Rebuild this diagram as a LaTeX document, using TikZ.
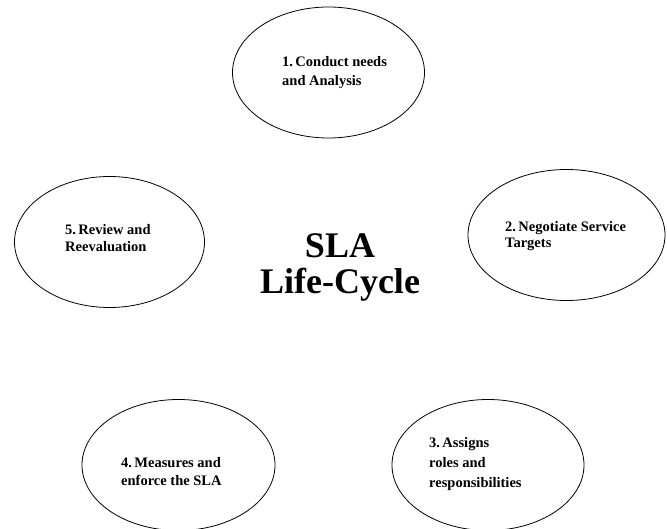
\documentclass[tikz,border=0pt]{standalone}
\usepackage{fontspec}
\setmainfont{Liberation Serif}
\usetikzlibrary{shapes.geometric}
\begin{document}
\begin{tikzpicture}[x=1pt,y=-1pt,
  phase/.style={draw=black,line width=0.8pt,ellipse,minimum width=#1,minimum height=131pt,inner sep=0pt},
  phase/.default=192pt,
  steptext/.style={anchor=base west,align=left,inner sep=0pt,font=\bfseries\fontsize{14.5}{#1}\selectfont},
  steptext/.default=18,
  title/.style={anchor=base,inner sep=0pt,font=\bfseries\fontsize{36}{36}\selectfont}]
\useasboundingbox (0,0) rectangle (667,529);
% the five phases of the cycle
\node[phase] (p1) at (328.5,72.5) {};
\node[phase=197pt] (p2) at (566.5,235) {};
\node[phase=190pt] (p5) at (109.5,242) {};
\node[phase=193pt] (p4) at (178.5,465) {};
\node[phase] (p3) at (488,465) {};
% their labels (placed by the baseline of the last line)
\node[steptext=18.5] (t1) at (282,85.5) {1.\,Conduct needs\\and Analysis};
\node[steptext=16] (t2) at (505,248) {2.\,Negotiate Service\\Targets};
\node[steptext=17] (t5) at (65,252) {5.\,Review and\\Reevaluation};
\node[steptext=18] (t4) at (121,485) {4.\,Measures and\\enforce the SLA};
\node[steptext=20] (t3) at (429,487) {3.\,Assigns\\roles and\\responsibilities};
% title in the middle
\node[title] (sla) at (340,258) {SLA};
\node[title] (lc) at (340,294) {Life-Cycle};
\end{tikzpicture}
\end{document}
